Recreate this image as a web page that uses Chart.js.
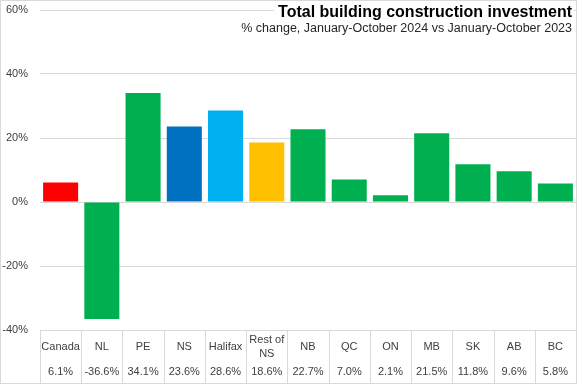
<!DOCTYPE html>
<html>
<head>
<meta charset="utf-8">
<script src="https://cdn.jsdelivr.net/npm/chart.js@4.4.0/dist/chart.umd.min.js"></script>
<style>
    html, body { margin: 0; padding: 0; background: #fff; }
    #wrap { width: 577px; height: 384px; }
</style>
</head>
<body>
<div id="wrap"><canvas id="chart" width="577" height="384"></canvas></div>
<script>
// data
const regions = ['Canada', 'NL', 'PE', 'NS', 'Halifax', 'Rest of NS', 'NB', 'QC', 'ON', 'MB', 'SK', 'AB', 'BC'];
const regionLines = [['Canada'], ['NL'], ['PE'], ['NS'], ['Halifax'], ['Rest of', 'NS'], ['NB'], ['QC'], ['ON'], ['MB'], ['SK'], ['AB'], ['BC']];
const pctChange = [6.1, -36.6, 34.1, 23.6, 28.6, 18.6, 22.7, 7.0, 2.1, 21.5, 11.8, 9.6, 5.8];
const barColors = ['#FF0000', '#00B050', '#00B050', '#0070C0', '#00B0F0', '#FFC000', '#00B050', '#00B050', '#00B050', '#00B050', '#00B050', '#00B050', '#00B050'];
const yTicks = [-40, -20, 0, 20, 40, 60];

const titleText = 'Total building construction investment';
const subtitleText = '% change, January-October 2024 vs January-October 2023';

const gridColor = '#d9d9d9';
const textColor = '#404040';

// table under the chart + title box + outer border
const tablePlugin = {
    id: 'tablePlugin',
    afterDraw(chart) {
        const ctx = chart.ctx;
        const x = chart.scales.x;
        const area = chart.chartArea;
        const top = area.bottom;
        const bottom = 383;
        ctx.save();
        ctx.strokeStyle = gridColor;
        ctx.lineWidth = 1;
        // vertical separators
        for (let i = 0; i <= regions.length; i++) {
            const px = Math.round(area.left + (area.right - area.left) * i / regions.length) + 0.5;
            ctx.beginPath();
            ctx.moveTo(px, top);
            ctx.lineTo(px, bottom);
            ctx.stroke();
        }
        ctx.beginPath();
        ctx.moveTo(area.left, bottom + 0.5);
        ctx.lineTo(area.right, bottom + 0.5);
        ctx.stroke();

        ctx.fillStyle = textColor;
        ctx.font = '11px "Liberation Sans", Arial, sans-serif';
        ctx.textAlign = 'center';
        ctx.textBaseline = 'middle';
        regions.forEach((r, i) => {
            const cx = x.getPixelForValue(i);
            const lines = regionLines[i];
            const lh = 14;
            const y0 = 347 - (lines.length - 1) * lh / 2;
            lines.forEach((ln, j) => ctx.fillText(ln, cx, y0 + j * lh));
            ctx.fillText(pctChange[i].toFixed(1) + '%', cx, 372);
        });

        // title with white background over the gridline
        ctx.textAlign = 'right';
        ctx.textBaseline = 'middle';
        ctx.font = 'bold 16px "Liberation Sans", Arial, sans-serif';
        const tw = ctx.measureText(titleText).width;
        ctx.fillStyle = '#fff';
        ctx.fillRect(572 - tw - 4, 3, tw + 6, 18);
        ctx.fillStyle = '#000';
        ctx.fillText(titleText, 572, 13);
        ctx.font = '12.5px "Liberation Sans", Arial, sans-serif';
        ctx.fillStyle = '#262626';
        ctx.fillText(subtitleText, 572, 29);

        // outer border
        ctx.strokeStyle = gridColor;
        ctx.strokeRect(0.5, 0.5, 576, 383);
        ctx.restore();
    }
};

new Chart(document.getElementById('chart'), {
    type: 'bar',
    data: {
        labels: regions,
        datasets: [{
            data: pctChange,
            backgroundColor: barColors,
            borderWidth: 0,
            barPercentage: 0.85,
            categoryPercentage: 1.0
        }]
    },
    options: {
        responsive: false,
        animation: false,
        layout: { padding: { top: 10, bottom: 54, right: 1, left: 0 } },
        plugins: {
            legend: { display: false },
            tooltip: { enabled: false }
        },
        scales: {
            x: {
                grid: { display: false, drawTicks: false },
                border: { display: false },
                ticks: { display: false }
            },
            y: {
                min: yTicks[0],
                max: yTicks[yTicks.length - 1],
                afterBuildTicks: axis => { axis.ticks = yTicks.map(v => ({ value: v })); },
                afterFit: axis => {
                    axis.width = 40;
                    axis.paddingTop = 0;
                    axis.paddingBottom = 0;
                },
                grid: { color: gridColor, drawTicks: false },
                border: { display: false },
                ticks: {
                    padding: 12,
                    color: textColor,
                    font: { family: '"Liberation Sans", Arial, sans-serif', size: 11 },
                    callback: v => v + '%'
                }
            }
        }
    },
    plugins: [tablePlugin]
});
</script>
</body>
</html>
